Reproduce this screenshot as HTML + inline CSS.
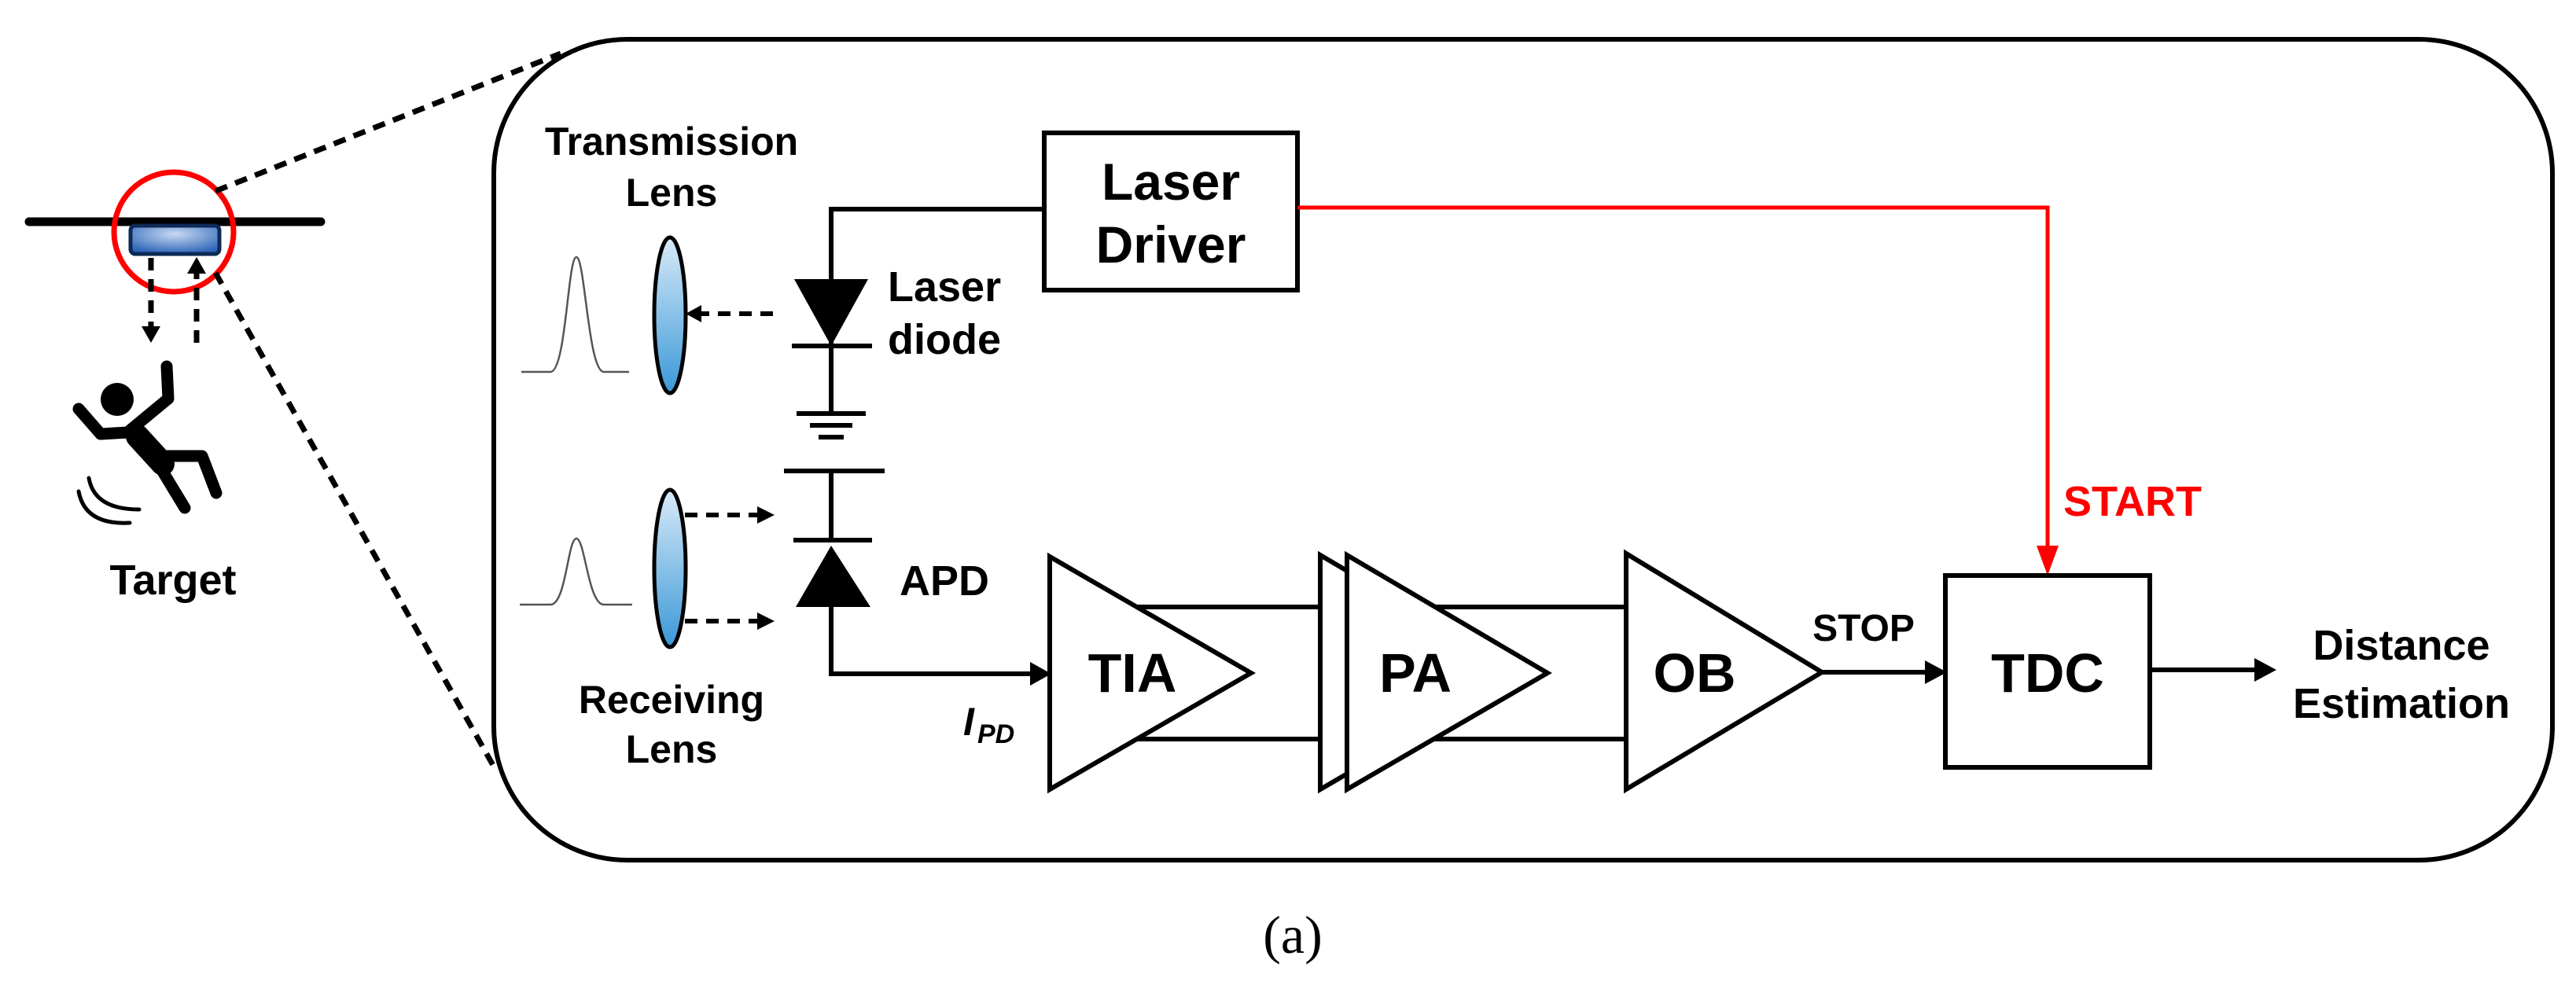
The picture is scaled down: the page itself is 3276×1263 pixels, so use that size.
<!DOCTYPE html>
<html><head><meta charset="utf-8"><style>
html,body{margin:0;padding:0;background:#fff}
svg{display:block}
text{font-family:"Liberation Sans",Arial,sans-serif;font-weight:bold}
</style></head><body>
<svg width="3276" height="1263" viewBox="0 0 3276 1263" xmlns="http://www.w3.org/2000/svg">
<defs>
<radialGradient id="bg" cx="0.5" cy="0.3" r="0.7"><stop offset="0" stop-color="#c8daf2"/><stop offset="1" stop-color="#2e64b8"/></radialGradient>
<linearGradient id="lg" x1="0" y1="0" x2="0" y2="1"><stop offset="0" stop-color="#d8eaf8"/><stop offset="1" stop-color="#3a98d8"/></linearGradient>
</defs>
<!-- ceiling / sensor -->
<line x1="37" y1="282" x2="408" y2="282" stroke="#000" stroke-width="11" stroke-linecap="round"/>
<rect x="166" y="287" width="113" height="36" rx="6" fill="url(#bg)" stroke="#0c2a55" stroke-width="5"/>
<circle cx="221" cy="295" r="76" fill="none" stroke="#f00" stroke-width="7"/>
<g stroke="#000" stroke-width="7" stroke-dasharray="16,11" fill="none">
<line x1="192" y1="328" x2="192" y2="418"/>
<line x1="250" y1="436" x2="250" y2="348"/>
<line x1="274" y1="243" x2="713" y2="68"/>
<line x1="274" y1="347" x2="628" y2="975"/>
</g>
<polygon points="180,415 204,415 192,436" fill="#000"/>
<polygon points="238,348 262,348 250,327" fill="#000"/>
<!-- person -->
<circle cx="149" cy="508" r="21" fill="#000"/>
<g stroke="#000" stroke-linecap="round" stroke-linejoin="round" fill="none">
<polyline points="100,520 128,552 162,550 214,507 212,466" stroke-width="15"/>
<line x1="175" y1="555" x2="207" y2="590" stroke-width="30"/>
<line x1="198" y1="585" x2="235" y2="646" stroke-width="15"/>
<polyline points="205,580 257,580 275,627" stroke-width="15"/>
<path d="M113,608 Q120,648 177,648" stroke-width="5"/>
<path d="M100,625 Q108,668 165,665" stroke-width="5"/>
</g>
<text x="220" y="756" font-size="54" text-anchor="middle">Target</text>
<!-- outer rounded box -->
<rect x="628" y="50" width="2618" height="1044" rx="170" fill="none" stroke="#000" stroke-width="6"/>
<!-- lenses -->
<text x="854" y="197" font-size="50" text-anchor="middle">Transmission</text>
<text x="854" y="262" font-size="50" text-anchor="middle">Lens</text>
<text x="854" y="907" font-size="50" text-anchor="middle">Receiving</text>
<text x="854" y="970" font-size="50" text-anchor="middle">Lens</text>
<path d="M663,473 L700,473 C720,473 722,327 733,327 C744,327 748,473 768,473 L800,473" fill="none" stroke="#555" stroke-width="2.5"/>
<path d="M661,769 L700,769 C720,769 722,685 733,685 C744,685 748,769 768,769 L804,769" fill="none" stroke="#555" stroke-width="2.5"/>
<ellipse cx="852" cy="401" rx="20" ry="99" fill="url(#lg)" stroke="#000" stroke-width="5"/>
<ellipse cx="852" cy="723" rx="20" ry="100" fill="url(#lg)" stroke="#000" stroke-width="5"/>
<g stroke="#000" stroke-width="6" stroke-dasharray="16,11" fill="none">
<line x1="983" y1="399" x2="888" y2="399"/>
<line x1="871" y1="655" x2="965" y2="655"/>
<line x1="871" y1="790" x2="965" y2="790"/>
</g>
<polygon points="872,399 892,388 892,410" fill="#000"/>
<polygon points="985,655 963,644 963,666" fill="#000"/>
<polygon points="985,790 963,779 963,801" fill="#000"/>
<!-- laser diode -->
<g stroke="#000" stroke-width="6" fill="none">
<polyline points="1328,266 1057,266 1057,526"/>
<line x1="1007" y1="440" x2="1109" y2="440"/>
<line x1="1013" y1="526" x2="1101" y2="526"/>
<line x1="1030" y1="541" x2="1084" y2="541"/>
<line x1="1041" y1="556" x2="1073" y2="556"/>
<line x1="997" y1="599" x2="1125" y2="599"/>
<line x1="1057" y1="599" x2="1057" y2="687"/>
<line x1="1009" y1="687" x2="1109" y2="687"/>
<polyline points="1057,772 1057,857 1315,857"/>
</g>
<polygon points="1010,355 1104,355 1057,440" fill="#000"/>
<polygon points="1012,772 1107,772 1057,694" fill="#000"/>
<polygon points="1337,857 1310,842 1310,872" fill="#000"/>
<text x="1129" y="383" font-size="54">Laser</text>
<text x="1129" y="450" font-size="54">diode</text>
<text x="1144" y="757" font-size="54">APD</text>
<text x="1225" y="935" font-size="50" font-style="italic">I</text>
<text x="1243" y="945" font-size="34" font-style="italic">PD</text>
<!-- laser driver -->
<rect x="1328" y="169" width="322" height="200" fill="none" stroke="#000" stroke-width="6"/>
<text x="1489" y="254" font-size="66" text-anchor="middle">Laser</text>
<text x="1489" y="334" font-size="66" text-anchor="middle">Driver</text>
<polyline points="1650,264 2604,264 2604,700" fill="none" stroke="#f00" stroke-width="5"/>
<polygon points="2590,694 2618,694 2604,732" fill="#f00"/>
<text x="2624" y="656" font-size="54" fill="#f00">START</text>
<!-- amps -->
<g stroke="#000" stroke-width="6" fill="#fff" stroke-linejoin="miter">
<line x1="1445" y1="772" x2="1690" y2="772"/>
<line x1="1445" y1="940" x2="1690" y2="940"/>
<line x1="1822" y1="772" x2="2068" y2="772"/>
<line x1="1822" y1="940" x2="2068" y2="940"/>
<polygon points="1335,708 1335,1004 1591,856" fill="none"/>
<polygon points="1679,706 1679,1004 1934,856"/>
<polygon points="1713,706 1713,1004 1968,856"/>
<polygon points="2068,704 2068,1004 2317,855"/>
<line x1="2317" y1="855" x2="2450" y2="855"/>
<rect x="2474" y="732" width="260" height="244" fill="none"/>
<line x1="2734" y1="852" x2="2870" y2="852"/>
</g>
<polygon points="2476,855 2448,840 2448,870" fill="#000"/>
<polygon points="2895,852 2867,837 2867,867" fill="#000"/>
<text x="1440" y="880" font-size="70" text-anchor="middle">TIA</text>
<text x="1800" y="880" font-size="70" text-anchor="middle">PA</text>
<text x="2155" y="880" font-size="70" text-anchor="middle">OB</text>
<text x="2370" y="815" font-size="48" text-anchor="middle">STOP</text>
<text x="2604" y="880" font-size="70" text-anchor="middle">TDC</text>
<text x="3054" y="839" font-size="54" text-anchor="middle">Distance</text>
<text x="3054" y="913" font-size="54" text-anchor="middle">Estimation</text>
<text x="1644" y="1212" font-size="68" text-anchor="middle" style="font-family:'Liberation Serif',serif;font-weight:normal">(a)</text>
</svg>
</body></html>
